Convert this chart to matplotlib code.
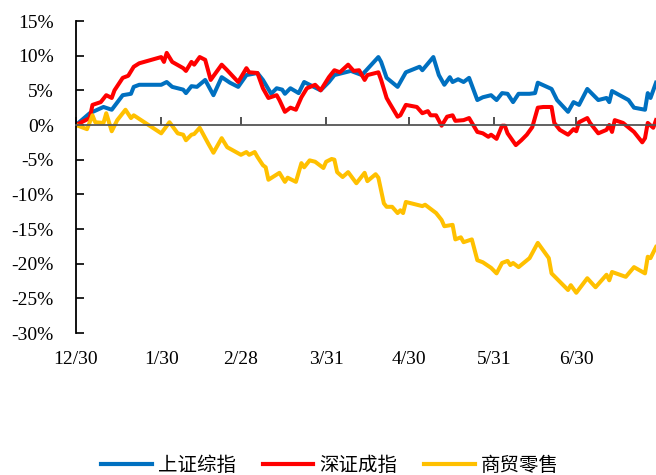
import matplotlib
matplotlib.use("Agg")
import matplotlib.pyplot as plt
import matplotlib.dates as mdates
import datetime as dt

# 上证综指
sh_dates = ['12/30', '1/4', '1/9', '1/12', '1/16', '1/19', '1/20', '1/22', '1/30', '2/1',
            '2/3', '2/7', '2/8', '2/10', '2/12', '2/15', '2/18', '2/21', '2/24', '2/27',
            '3/2', '3/6', '3/8', '3/11', '3/13', '3/15', '3/16', '3/18', '3/21', '3/23',
            '3/25', '3/29', '4/1', '4/3', '4/6', '4/9', '4/13', '4/19', '4/20', '4/22',
            '4/26', '4/29', '5/4', '5/5', '5/9', '5/11', '5/13', '5/15', '5/16', '5/18',
            '5/20', '5/22', '5/25', '5/27', '5/30', '6/1', '6/3', '6/5', '6/7', '6/9',
            '6/13', '6/15', '6/16', '6/21', '6/23', '6/27', '6/29', '7/1', '7/4', '7/8',
            '7/11', '7/12', '7/13', '7/19', '7/21', '7/25', '7/26', '7/27', '7/29']
sh_vals = [0.0, 1.7, 2.6, 2.2, 4.3, 4.5, 5.5, 5.8, 5.8, 6.2,
           5.5, 5.1, 4.6, 5.6, 5.5, 6.5, 4.3, 6.9, 6.1, 5.5,
           7.2, 7.5, 6.5, 4.5, 5.3, 5.1, 4.5, 5.3, 4.6, 6.2,
           5.8, 5.0, 6.2, 7.2, 7.5, 7.8, 7.2, 9.8, 9.1, 6.8,
           5.5, 7.6, 8.4, 7.9, 9.8, 7.2, 5.8, 6.9, 6.2, 6.6,
           6.2, 6.8, 3.6, 4.0, 4.3, 3.6, 4.6, 4.5, 3.3, 4.5,
           4.5, 4.6, 6.1, 5.2, 3.6, 1.9, 3.3, 2.9, 5.2, 3.6,
           3.9, 3.3, 4.9, 3.6, 2.5, 2.2, 4.6, 3.9, 6.1]

# 深证成指
sz_dates = ['12/30', '1/4', '1/5', '1/8', '1/10', '1/12', '1/13', '1/16', '1/18', '1/20',
            '1/22', '1/30', '1/31', '2/1', '2/3', '2/7', '2/8', '2/10', '2/11', '2/13',
            '2/15', '2/17', '2/21', '2/23', '2/27', '3/2', '3/3', '3/6', '3/8', '3/10',
            '3/13', '3/14', '3/16', '3/18', '3/20', '3/22', '3/24', '3/27', '3/29', '4/1',
            '4/3', '4/5', '4/8', '4/10', '4/12', '4/14', '4/15', '4/19', '4/20', '4/22',
            '4/23', '4/26', '4/27', '4/29', '5/3', '5/5', '5/7', '5/8', '5/10', '5/12',
            '5/14', '5/16', '5/17', '5/20', '5/22', '5/25', '5/27', '5/29', '5/30', '6/1',
            '6/3', '6/4', '6/5', '6/8', '6/10', '6/12', '6/14', '6/16', '6/18', '6/21',
            '6/22', '6/24', '6/27', '6/29', '6/30', '7/1', '7/4', '7/5', '7/8', '7/11',
            '7/12', '7/13', '7/14', '7/17', '7/21', '7/24', '7/25', '7/26', '7/28', '7/29']
sz_vals = [0.0, 1.0, 2.9, 3.3, 4.3, 3.9, 5.0, 6.8, 7.1, 8.4,
           8.9, 9.8, 9.1, 10.4, 9.1, 8.2, 7.8, 9.1, 8.7, 9.8,
           9.4, 6.5, 8.7, 7.9, 6.2, 8.2, 7.6, 7.5, 5.3, 3.9,
           4.3, 3.6, 1.9, 2.5, 2.2, 4.0, 5.3, 5.8, 5.0, 6.9,
           7.9, 7.6, 8.7, 7.8, 7.9, 6.5, 7.2, 7.6, 6.5, 3.9,
           3.2, 1.2, 1.4, 2.9, 2.6, 1.7, 2.0, 1.4, 1.4, -0.1,
           1.2, 1.4, 0.6, 0.7, 1.0, -1.0, -1.2, -1.7, -1.4, -2.0,
           -0.1, -0.1, -1.2, -2.9, -2.2, -1.4, -0.3, 2.5, 2.6, 2.6,
           0.3, -0.7, -1.4, -0.6, -0.9, 0.4, 1.0, 0.3, -1.2, -0.7,
           0.0, -1.0, 0.7, 0.3, -1.0, -2.5, -1.9, 0.3, -0.4, 0.7]

# 商贸零售
ls_dates = ['12/30', '1/3', '1/5', '1/6', '1/9', '1/10', '1/12', '1/14', '1/17', '1/19',
            '1/20', '1/30', '2/2', '2/5', '2/7', '2/8', '2/10', '2/11', '2/13', '2/16',
            '2/18', '2/21', '2/23', '2/28', '3/2', '3/3', '3/5', '3/6', '3/8', '3/9',
            '3/10', '3/14', '3/16', '3/17', '3/20', '3/22', '3/23', '3/25', '3/27', '3/30',
            '3/31', '4/2', '4/3', '4/4', '4/6', '4/8', '4/11', '4/12', '4/14', '4/15',
            '4/18', '4/19', '4/21', '4/22', '4/24', '4/26', '4/27', '4/28', '4/29', '5/5',
            '5/6', '5/10', '5/12', '5/13', '5/16', '5/17', '5/19', '5/20', '5/23', '5/25',
            '5/27', '5/30', '6/1', '6/3', '6/5', '6/6', '6/7', '6/9', '6/13', '6/16',
            '6/20', '6/21', '6/27', '6/28', '6/30', '7/4', '7/7', '7/11', '7/12', '7/13',
            '7/18', '7/21', '7/25', '7/26', '7/27', '7/29']
ls_vals = [0.0, -0.6, 1.4, 0.4, 0.3, 1.7, -0.9, 0.7, 2.2, 1.0,
           1.4, -1.2, 0.4, -1.2, -1.4, -2.2, -1.4, -1.3, -0.4, -2.6,
           -4.0, -1.9, -3.2, -4.3, -3.9, -4.3, -3.9, -4.6, -5.8, -6.1,
           -7.9, -6.9, -8.2, -7.6, -8.2, -5.5, -6.1, -5.1, -5.3, -6.2,
           -5.3, -4.9, -5.0, -6.8, -7.5, -6.8, -8.4, -7.9, -6.9, -8.1,
           -7.1, -7.6, -11.3, -11.8, -11.8, -12.7, -12.3, -12.7, -11.1, -11.7,
           -11.5, -12.7, -13.7, -14.6, -14.4, -16.5, -16.2, -16.9, -16.5, -19.5,
           -19.8, -20.6, -21.4, -19.9, -19.6, -20.2, -19.9, -20.5, -19.2, -17.0,
           -19.2, -21.4, -23.8, -23.1, -24.2, -22.1, -23.4, -21.6, -22.4, -21.2,
           -21.9, -20.5, -21.4, -19.0, -19.2, -17.6]

x_ticks = ['12/30', '1/30', '2/28', '3/31', '4/30', '5/31', '6/30']
y_ticks = [15, 10, 5, 0, -5, -10, -15, -20, -25, -30]
y_labels = ['15%', '10%', '5%', '0%', '-5%', '-10%', '-15%', '-20%', '-25%', '-30%']


def to_num(labels):
    out = []
    for s in labels:
        m, d = s.split('/')
        year = 2022 if m == '12' else 2023
        out.append(mdates.date2num(dt.date(year, int(m), int(d))))
    return out


serif = 'Liberation Serif'
cjk = ['Noto Sans CJK SC', 'DejaVu Sans']

fig = plt.figure(figsize=(6.56, 4.75), dpi=100)
ax = fig.add_axes([76 / 656, 142 / 475, 580 / 656, 312 / 475])

ax.plot(to_num(sh_dates), sh_vals, color='#0070C0', lw=2.9, label='上证综指',
        solid_joinstyle='round')
ax.plot(to_num(sz_dates), sz_vals, color='#FF0000', lw=2.9, label='深证成指',
        solid_joinstyle='round')
ax.plot(to_num(ls_dates), ls_vals, color='#FFC000', lw=2.9, label='商贸零售',
        solid_joinstyle='round')

xt = to_num(x_ticks)
ax.set_xlim(xt[0], to_num(['7/29'])[0])
ax.set_ylim(-30, 15)

# y axis
ax.set_yticks(y_ticks)
ax.set_yticklabels(y_labels, fontfamily=serif, fontsize=14)
ax.tick_params(axis='y', direction='in', length=6, width=1.2, pad=16, colors='black')

# x axis line sits on zero, labels at the bottom
ax.spines['bottom'].set_position(('data', 0))
ax.spines['bottom'].set_color('#555555')
ax.spines['bottom'].set_linewidth(1.3)
ax.spines['left'].set_linewidth(1.3)
ax.spines['top'].set_visible(False)
ax.spines['right'].set_visible(False)
ax.set_xticks(xt)
ax.tick_params(axis='x', direction='in', length=6, width=1.2, color='#333333',
               labelbottom=False)

sec = ax.secondary_xaxis('bottom')
sec.set_xticks(xt)
sec.set_xticklabels(x_ticks, fontfamily=serif, fontsize=14)
sec.tick_params(axis='x', length=0, pad=13)
sec.spines['bottom'].set_visible(False)

leg = fig.legend(loc='center', bbox_to_anchor=(0.503, 0.021), ncol=3, frameon=False,
                 prop={'family': cjk, 'size': 14}, handlelength=2.6,
                 handletextpad=0.3, columnspacing=1.4)
for h in leg.get_lines():
    h.set_linewidth(3)

fig.savefig('out.png', dpi=100, facecolor='white')
